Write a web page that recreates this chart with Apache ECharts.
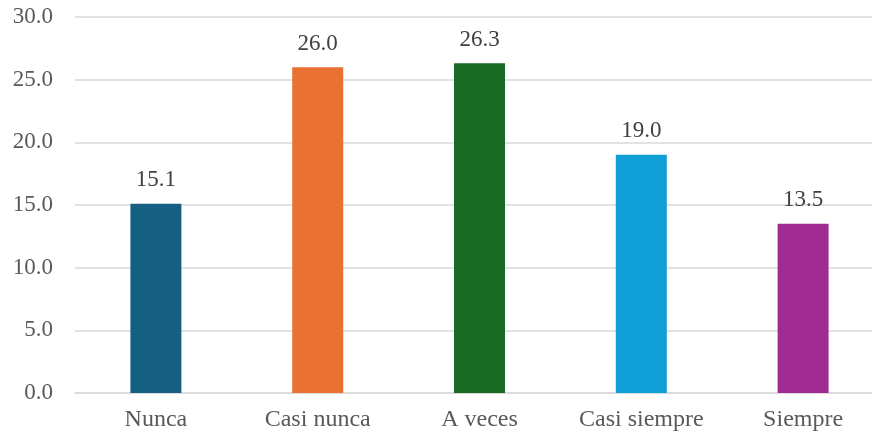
<!DOCTYPE html>
<html>
<head>
<meta charset="utf-8">
<script src="https://cdn.jsdelivr.net/npm/echarts@6/dist/echarts.min.js"></script>
<style>
  html, body { margin: 0; padding: 0; background: #fff; }
  #chart { width: 872px; height: 437px; }
</style>
</head>
<body>
<div id="chart"></div>
<script>
// datos
const categories = ['Nunca', 'Casi nunca', 'A veces', 'Casi siempre', 'Siempre']
const values = [15.1, 26.0, 26.3, 19.0, 13.5]
const barColors = ['#156082', '#e97132', '#196b24', '#0f9ed5', '#a02b93']
const yTicks = { min: 0, max: 30, interval: 5 }

const myChart = echarts.init(document.getElementById('chart'))
const font = '"Liberation Serif", "Times New Roman", serif'

const option = {
  animation: false,
  grid: {
    left: 75,
    right: -12,
    top: 17,
    bottom: 44,
    outerBoundsMode: 'none'
  },
  xAxis: {
    type: 'category',
    data: categories,
    axisLine: { lineStyle: { color: '#d9d9d9', width: 1.5 } },
    axisTick: { show: false },
    axisLabel: {
      interval: 0,
      color: '#595959',
      fontFamily: font,
      fontSize: 24,
      margin: 15
    }
  },
  yAxis: {
    type: 'value',
    min: yTicks.min,
    max: yTicks.max,
    interval: yTicks.interval,
    axisLine: { show: false },
    axisTick: { show: false },
    axisLabel: {
      color: '#595959',
      fontFamily: font,
      fontSize: 23,
      margin: 22,
      formatter: v => v.toFixed(1)
    },
    splitLine: { lineStyle: { color: '#d9d9d9', width: 1.5 } }
  },
  series: [{
    type: 'bar',
    barWidth: 51,
    data: values.map((v, i) => ({ value: v, itemStyle: { color: barColors[i] } })),
    label: {
      show: true,
      position: 'top',
      distance: 12,
      color: '#404040',
      fontFamily: font,
      fontSize: 23,
      formatter: p => p.value.toFixed(1)
    }
  }]
}

myChart.setOption(option)
</script>
</body>
</html>
